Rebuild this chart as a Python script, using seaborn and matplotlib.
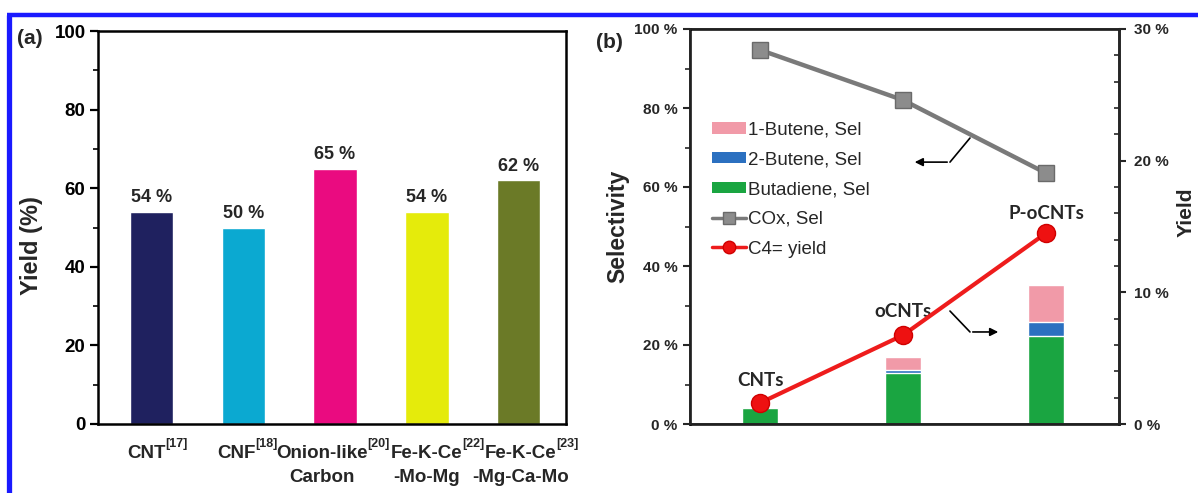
import numpy as np
import pandas as pd
import matplotlib
matplotlib.use("Agg")
import matplotlib.pyplot as plt
import seaborn as sns
from matplotlib.patches import Patch
from matplotlib.lines import Line2D
from matplotlib import font_manager
from matplotlib.font_manager import FontProperties
from matplotlib.transforms import ScaledTranslation

# ---------------- data: panel (a) ----------------
catalysts = ["CNT", "CNF", "Onion-like\nCarbon", "Fe-K-Ce\n-Mo-Mg", "Fe-K-Ce\n-Mg-Ca-Mo"]
refs = ["[17]", "[18]", "[20]", "[22]", "[23]"]
yield_a = [54, 50, 65, 54, 62]
colors_a = ["#1f215f", "#0ba9d1", "#ea0b80", "#e5eb0b", "#6b7a27"]
yticks_a = [0, 20, 40, 60, 80, 100]

# ---------------- data: panel (b) ----------------
samples = ["CNTs", "oCNTs", "P-oCNTs"]
butadiene_sel = [4.0, 12.8, 22.3]
butene2_sel = [0.0, 0.9, 3.6]
butene1_sel = [0.0, 3.2, 9.3]
cox_sel = [94.7, 82.0, 63.5]
c4_yield = [1.6, 6.75, 14.5]
sel_ticks = [0, 20, 40, 60, 80, 100]
yield_ticks = [0, 10, 20, 30]

sns.set_theme(style="ticks")
avail = {f.name for f in font_manager.fontManager.ttflist}
main_font = "Liberation Sans" if "Liberation Sans" in avail else "DejaVu Sans"
plt.rcParams["font.family"] = [main_font, "DejaVu Sans"]

W, H = 1198, 493
fig = plt.figure(figsize=(W / 100, H / 100), dpi=100)
fig.patch.set_facecolor("white")
renderer = fig.canvas.get_renderer()

def rect(x0, y0, x1, y1):
    return [x0 / W, 1 - y1 / H, (x1 - x0) / W, (y1 - y0) / H]

# blue frame (top + left)
fig.add_artist(Line2D([8.5 / W, 8.5 / W], [0, 1 - 15 / H], transform=fig.transFigure,
                      color="#1a1aff", lw=3.8, solid_capstyle="butt"))
fig.add_artist(Line2D([6.6 / W, 1], [1 - 15 / H, 1 - 15 / H], transform=fig.transFigure,
                      color="#1a1aff", lw=3.2, solid_capstyle="butt"))

# ================= panel (a) =================
axa = fig.add_axes(rect(98, 31, 566, 424))
df_a = pd.DataFrame({"cat": catalysts, "y": yield_a})
sns.barplot(data=df_a, x="cat", y="y", hue="cat", palette=colors_a, legend=False,
            width=0.475, saturation=1, errorbar=None, ax=axa)
axa.set_xlim(-0.584, 4.518)
axa.set_ylim(0, 100)
axa.set_yticks(yticks_a)
axa.set_yticks([v + 10 for v in yticks_a[:-1]], minor=True)
axa.set_yticklabels([str(v) for v in yticks_a], fontweight="bold", fontsize=13.5)
xfs = 13.5
first_lines = [c.split("\n")[0] for c in catalysts]
second_lines = [c.split("\n")[1] if "\n" in c else "" for c in catalysts]
axa.set_xticks(range(len(catalysts)))
axa.set_xticklabels(first_lines, fontweight="bold", fontsize=xfs)
axa.tick_params(axis="y", which="major", direction="out", length=6, width=1.6, pad=3, colors="black")
axa.tick_params(axis="y", which="minor", direction="out", length=3.5, width=1.4)
axa.tick_params(axis="x", length=0, pad=15)
for s in axa.spines.values():
    s.set_visible(True)
    s.set_linewidth(1.8)
    s.set_color("black")
for cont, v in zip(axa.containers, yield_a):
    axa.bar_label(cont, labels=[f"{v} %"], padding=4, fontweight="bold", fontsize=13)

# category labels nudged sideways as in the reference; superscripts hang after line 1
label_dx_px = [-5, -7, -13, 0, 2]
fp = FontProperties(family=main_font, weight="bold", size=xfs)
xtr = axa.get_xaxis_transform()
for i, (lab, first, second, ref) in enumerate(zip(axa.get_xticklabels(), first_lines, second_lines, refs)):
    dx = label_dx_px[i]
    lab.set_transform(lab.get_transform() + ScaledTranslation(dx / 100, 0, fig.dpi_scale_trans))
    wpx, _, _ = renderer.get_text_width_height_descent(first, fp, ismath=False)
    x_pt = (dx + wpx / 2) * 72 / 100
    axa.annotate(ref, xy=(i, 0), xycoords=xtr, xytext=(x_pt - 0.2, -10.1),
                 textcoords="offset points", ha="left", va="top", fontsize=9,
                 fontweight="bold", annotation_clip=False)
    if second:
        axa.annotate(second, xy=(i, 0), xycoords=xtr, xytext=(dx * 0.72, -32.3),
                     textcoords="offset points", ha="center", va="top", fontsize=xfs,
                     fontweight="bold", annotation_clip=False)

axa.set_xlabel("")
axa.set_ylabel("Yield (%)", fontweight="bold", fontsize=17)
axa.yaxis.set_label_coords(-0.117, 0.455)
fig.text(30 / W, 1 - 39 / H, "(a)", ha="center", va="center", fontweight="bold", fontsize=15)

# ================= panel (b) =================
axb = fig.add_axes(rect(690, 29, 1119, 424))
xpos = np.arange(len(samples))
tot_all = np.array(butadiene_sel) + np.array(butene2_sel) + np.array(butene1_sel)
tot_two = np.array(butadiene_sel) + np.array(butene2_sel)
df_b = pd.DataFrame({"s": samples, "all": tot_all, "two": tot_two, "one": butadiene_sel})
c_pink, c_blue, c_green = "#f19aa8", "#2b70c0", "#1aa541"
sns.barplot(data=df_b, x="s", y="all", color=c_pink, width=0.25, saturation=1, errorbar=None, ax=axb)
sns.barplot(data=df_b, x="s", y="two", color=c_blue, width=0.25, saturation=1, errorbar=None, ax=axb)
sns.barplot(data=df_b, x="s", y="one", color=c_green, width=0.25, saturation=1, errorbar=None, ax=axb)
sns.lineplot(x=xpos, y=cox_sel, ax=axb, color="#7a7a7a", lw=3.2, marker="s", markersize=12,
             markerfacecolor="#8c8c8c", markeredgecolor="#6a6a6a", markeredgewidth=1)
axb.set_xlim(-0.49, 2.51)
axb.set_ylim(0, 100)
axb.set_yticks(sel_ticks)
axb.set_yticks([v + 10 for v in sel_ticks[:-1]], minor=True)
axb.set_yticklabels([f"{v} %" for v in sel_ticks], fontweight="bold", fontsize=11)
axb.set_xticks([])
axb.tick_params(axis="y", which="major", direction="out", length=5, width=1.5, pad=4)
axb.tick_params(axis="y", which="minor", direction="out", length=3.5, width=1.2)
for s in axb.spines.values():
    s.set_visible(True)
    s.set_linewidth(1.8)
    s.set_color("black")
axb.set_xlabel("")
axb.set_ylabel("Selectivity", fontweight="bold", fontsize=16.5)
axb.yaxis.set_label_coords(-0.142, 0.5)
fig.text(609 / W, 1 - 42 / H, "(b)", ha="center", va="center", fontweight="bold", fontsize=15)

ax2 = axb.twinx()
sns.lineplot(x=xpos, y=c4_yield, ax=ax2, color="#ee1c1c", lw=3, marker="o", markersize=13,
             markerfacecolor="#ee1111", markeredgecolor="#d00000", markeredgewidth=1)
ax2.set_ylim(0, 30)
ax2.set_yticks(yield_ticks)
ax2.set_yticks(np.arange(2, 30, 2), minor=True)
ax2.set_yticklabels([f"{v} %" for v in yield_ticks], fontweight="bold", fontsize=11)
ax2.tick_params(axis="y", which="major", direction="out", length=5, width=1.5, pad=6)
ax2.tick_params(axis="y", which="minor", direction="in", length=3.5, width=1.2)
ax2.spines["right"].set_linewidth(1.8)
ax2.set_ylabel("Yield", fontweight="bold", fontsize=15)
ax2.yaxis.set_label_coords(1.134, 0.537)
ax2.set_xlabel("")

# sample annotations
for i, (name, yoff) in enumerate(zip(samples, [11.1, 28.6, 53.2])):
    axb.text(xpos[i], yoff, name, ha="center", va="center", fontweight="bold",
             fontsize=13.5, family=["Lato", main_font])

# pointer arrows
axb.plot([1.468, 1.328], [72.4, 66.3], color="black", lw=1.2)
axb.annotate("", xy=(1.062, 66.3), xytext=(1.328, 66.3),
             arrowprops=dict(arrowstyle="-|>", color="black", lw=1.2, mutation_scale=12))
axb.plot([1.328, 1.468], [28.6, 23.3], color="black", lw=1.2)
axb.annotate("", xy=(1.685, 23.3), xytext=(1.468, 23.3),
             arrowprops=dict(arrowstyle="-|>", color="black", lw=1.2, mutation_scale=12))

handles = [Patch(facecolor=c_pink, edgecolor="none"),
           Patch(facecolor=c_blue, edgecolor="none"),
           Patch(facecolor=c_green, edgecolor="none"),
           Line2D([], [], color="#7a7a7a", lw=2.5, marker="s", markersize=8,
                  markerfacecolor="#8c8c8c", markeredgecolor="#6a6a6a"),
           Line2D([], [], color="#ee1c1c", lw=2.5, marker="o", markersize=9,
                  markerfacecolor="#ee1111", markeredgecolor="#d00000")]
labels = ["1-Butene, Sel", "2-Butene, Sel", "Butadiene, Sel", "COx, Sel", "C4= yield"]
ax2.legend(handles, labels, loc="upper left", bbox_to_anchor=(0.043, 0.775), frameon=False,
           fontsize=13.5, handlelength=1.8, handleheight=0.55, handletextpad=0.12,
           labelspacing=0.68, borderpad=0.2, borderaxespad=0)

fig.savefig("out.png", dpi=100, facecolor="white")
